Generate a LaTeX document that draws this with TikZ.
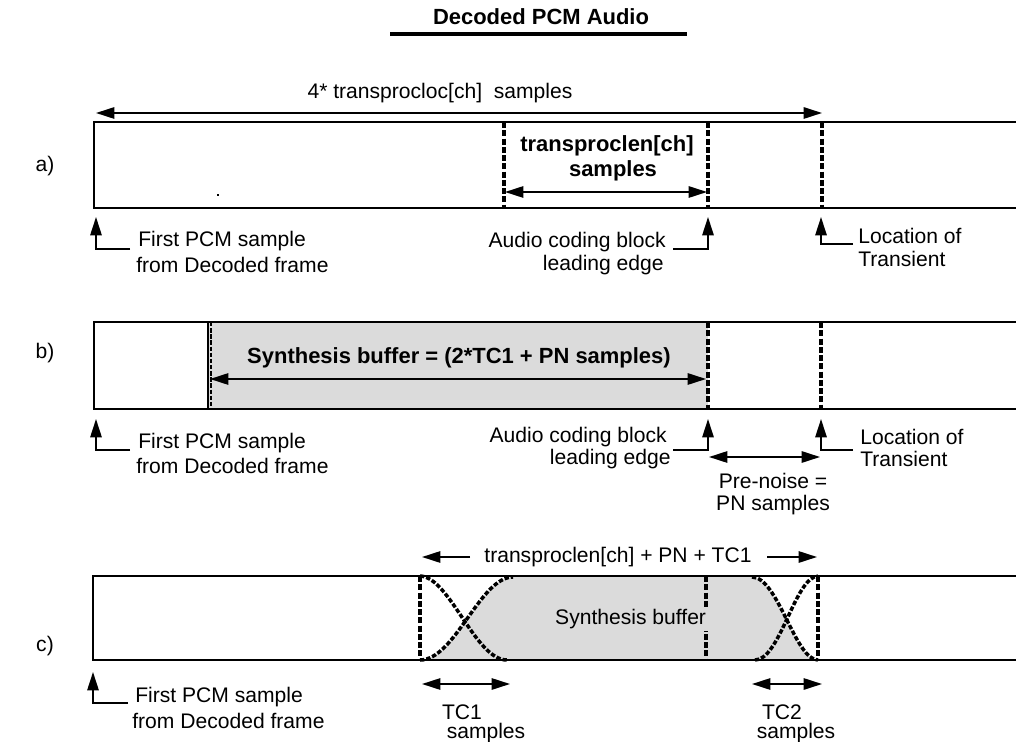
\documentclass[tikz,border=0pt]{standalone}
\usepackage{fontspec}
\setmainfont{Liberation Sans}
\usetikzlibrary{arrows.meta}
\begin{document}
\begin{tikzpicture}[x=0.02cm,y=-0.02cm,
  txt/.style={inner sep=0pt, font=\fontsize{12}{14}\selectfont},
  btxt/.style={inner sep=0pt, font=\fontsize{12.5}{15}\selectfont\bfseries},
  frame/.style={line width=1.1pt},
  bdash/.style={line width=2pt, dash pattern=on 3.5pt off 1.2pt},
  curv/.style={line width=2pt, dash pattern=on 2.5pt off 1.1pt},
  arr/.style={line width=1pt, -{Triangle[length=10.5pt,width=6.5pt]}},
  darr/.style={line width=1pt, {Triangle[length=10.5pt,width=6.5pt]}-{Triangle[length=10.5pt,width=6.5pt]}},
  shade/.style={fill=black!14}
]
\useasboundingbox (0,0) rectangle (1016,742);

% title
\node[btxt] (title) at (541,17) {Decoded PCM Audio};
\coordinate (ul1) at (390,34); \coordinate (ul2) at (687,34);
\draw[line width=1.8pt] (ul1) -- (ul2);

% labels
\node[txt] (la) at (45,166) {a)};
\node[txt] (lb) at (45,353) {b)};
\node[txt] (lc) at (45,646) {c)};

% ---------------- row a ----------------
\draw[frame] (1016,122) -- (94,122) -- (94,208) -- (1016,208);
\coordinate (a1t) at (504,122); \coordinate (a1b) at (504,208);
\coordinate (a2t) at (708,122); \coordinate (a2b) at (708,208);
\coordinate (a3t) at (822,122); \coordinate (a3b) at (822,208);
\draw[bdash] (a1t) -- (a1b);
\draw[bdash] (a2t) -- (a2b);
\draw[bdash] (a3t) -- (a3b);
\coordinate (ta1) at (96,113); \coordinate (ta2) at (822,113);
\draw[darr] (ta1) -- (ta2);
\node[txt] (tatxt) at (440,93) {4* transprocloc[ch]\ \ samples};
\node[btxt] (tpl1) at (607,146) {transproclen[ch]};
\node[btxt] (tpl2) at (613,171) {samples};
\coordinate (tp1) at (505,192); \coordinate (tp2) at (707,192);
\draw[darr] (tp1) -- (tp2);
\fill (217,194) rectangle (219,196);

% markers a
\coordinate (fa0) at (130,249); \coordinate (fa1) at (96,249); \coordinate (fa2) at (96,217);
\draw[arr] (fa0) -- (fa1) -- (fa2);
\node[txt,anchor=west] (fat1) at (138,241) {First PCM sample};
\node[txt,anchor=west] (fat2) at (136,265) {from Decoded frame};
\coordinate (ca0) at (673,249); \coordinate (ca1) at (708,249); \coordinate (ca2) at (708,217);
\draw[arr] (ca0) -- (ca1) -- (ca2);
\node[txt,anchor=east] (cat1) at (666,242) {Audio coding block};
\node[txt,anchor=east] (cat2) at (664,265) {leading edge};
\coordinate (la0) at (853,244); \coordinate (la1) at (821,244); \coordinate (la2) at (821,217);
\draw[arr] (la0) -- (la1) -- (la2);
\node[txt,anchor=west] (lat1) at (858,236) {Location of};
\node[txt,anchor=west] (lat2) at (858,259) {Transient};

% ---------------- row b ----------------
\fill[shade] (208,322) rectangle (708,409);
\draw[frame] (1016,322) -- (94,322) -- (94,409) -- (1016,409);
\coordinate (b1t) at (208,322); \coordinate (b1b) at (208,409);
\coordinate (b2t) at (708,322); \coordinate (b2b) at (708,409);
\coordinate (b3t) at (821,322); \coordinate (b3b) at (821,409);
\draw[line width=0.8pt] (b1t) -- (b1b);
\draw[line width=1.2pt, dash pattern=on 2.5pt off 1pt] ([xshift=1.5]b1t) -- ([xshift=1.5]b1b);
\draw[bdash] (b2t) -- (b2b);
\draw[bdash] (b3t) -- (b3b);
\node[btxt] (syn) at (459,358) {Synthesis buffer = (2*TC1 + PN samples)};
\coordinate (sb1) at (210,379); \coordinate (sb2) at (706,379);
\draw[darr] (sb1) -- (sb2);

\coordinate (fb0) at (130,450); \coordinate (fb1) at (96,450); \coordinate (fb2) at (96,419);
\draw[arr] (fb0) -- (fb1) -- (fb2);
\node[txt,anchor=west] (fbt1) at (138,443) {First PCM sample};
\node[txt,anchor=west] (fbt2) at (136,466) {from Decoded frame};
\coordinate (cb0) at (673,450); \coordinate (cb1) at (708,450); \coordinate (cb2) at (708,419);
\draw[arr] (cb0) -- (cb1) -- (cb2);
\node[txt,anchor=east] (cbt1) at (667,437) {Audio coding block};
\node[txt,anchor=east] (cbt2) at (671,459) {leading edge};
\coordinate (lb0) at (853,450); \coordinate (lb1) at (821,450); \coordinate (lb2) at (821,419);
\draw[arr] (lb0) -- (lb1) -- (lb2);
\node[txt,anchor=west] (lbt1) at (860,437) {Location of};
\node[txt,anchor=west] (lbt2) at (860,459) {Transient};
\coordinate (pn1) at (709,457); \coordinate (pn2) at (820,457);
\draw[darr] (pn1) -- (pn2);
\node[txt] (pnt1) at (773,481) {Pre-noise =};
\node[txt] (pnt2) at (773,505) {PN samples};

% ---------------- row c ----------------
\fill[shade] (420,660) .. controls (455,660) and (480,577) .. (513,577)
  -- (752,577) .. controls (778,577) and (795,660) .. (818,660) -- cycle;
\draw[frame] (1016,576) -- (93,576) -- (93,660) -- (1016,660);
\coordinate (c1t) at (420,576); \coordinate (c1b) at (420,660);
\coordinate (c2t) at (706,576); \coordinate (c2b) at (706,660);
\coordinate (c3t) at (818,576); \coordinate (c3b) at (818,660);
\draw[bdash] (c1t) -- (c1b);
\draw[bdash] (c2t) -- (c2b);
\draw[bdash] (c3t) -- (c3b);
% crossfade curves
\draw[curv] (c1t) .. controls (450,577) and (475,660) .. (507,660);
\draw[curv] (c1b) .. controls (455,660) and (480,577) .. (513,577);
\draw[curv] (752,577) .. controls (778,577) and (795,660) .. (c3b);
\draw[curv] (755,660) .. controls (780,660) and (795,577) .. (c3t);
\node[txt, shade, inner sep=1.5pt, anchor=east] (sbt) at (709,619) {Synthesis buffer};
\node[txt] (tct) at (618,557) {transproclen[ch] + PN + TC1};
\coordinate (tl0) at (470,557); \coordinate (tl1) at (422,557);
\coordinate (tr0) at (767,557); \coordinate (tr1) at (817,557);
\draw[arr] (tl0) -- (tl1);
\draw[arr] (tr0) -- (tr1);
\coordinate (tc1a) at (422,684); \coordinate (tc1b) at (510,684);
\coordinate (tc2a) at (752,684); \coordinate (tc2b) at (822,684);
\draw[darr] (tc1a) -- (tc1b);
\draw[darr] (tc2a) -- (tc2b);
\node[txt] (tc1t1) at (462,712) {TC1};
\node[txt] (tc1t2) at (486,733) {samples};
\node[txt] (tc2t1) at (782,712) {TC2};
\node[txt] (tc2t2) at (796,733) {samples};

\coordinate (fc0) at (128,703); \coordinate (fc1) at (93,703); \coordinate (fc2) at (93,672);
\draw[arr] (fc0) -- (fc1) -- (fc2);
\node[txt,anchor=west] (fct1) at (135,697) {First PCM sample};
\node[txt,anchor=west] (fct2) at (132,721) {from Decoded frame};
\end{tikzpicture}
\end{document}
